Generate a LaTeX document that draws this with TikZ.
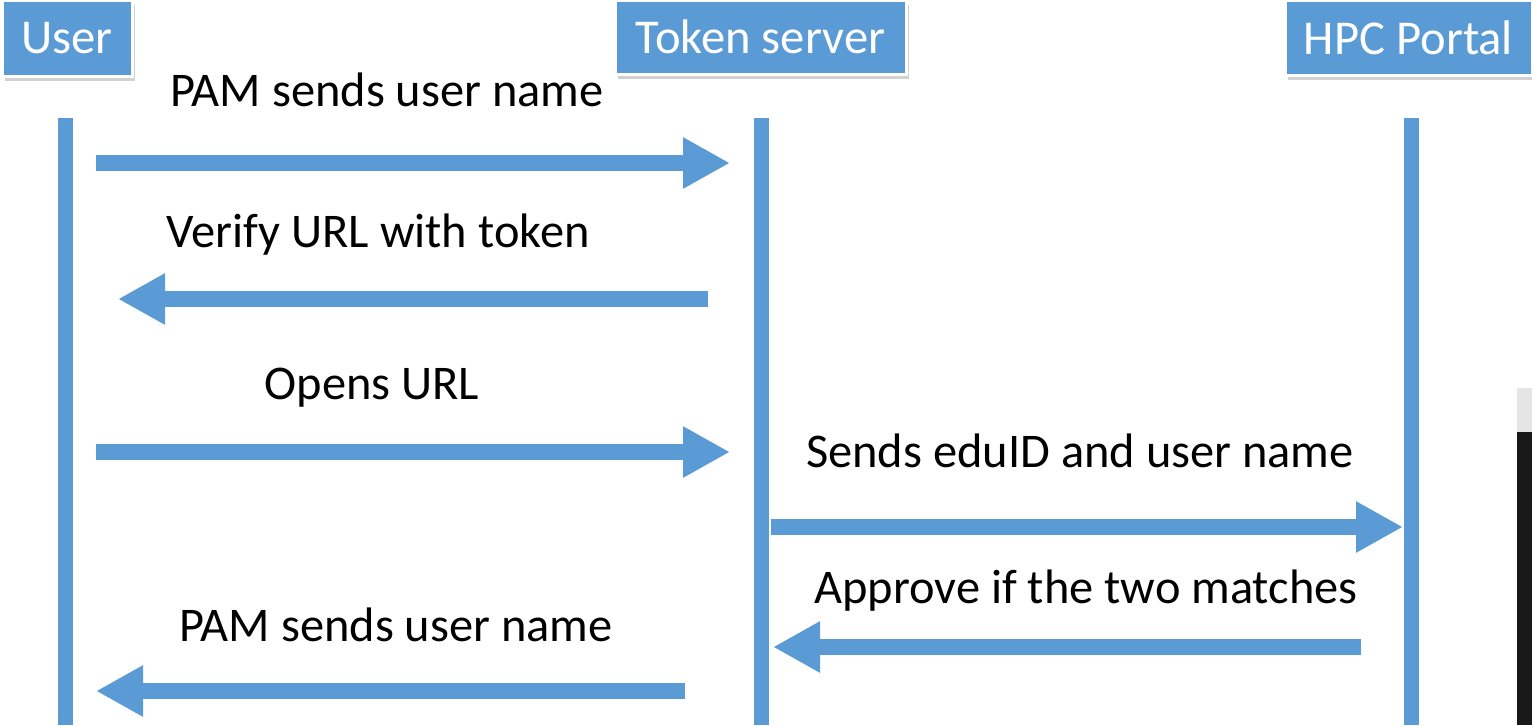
\documentclass[tikz,border=0pt]{standalone}
\usepackage{fontspec}
\setmainfont{Carlito}
\usetikzlibrary{arrows.meta,shadows,positioning}
\definecolor{lineblue}{RGB}{91,155,213}
\tikzset{%
	actor/.style    = {draw=white, line width=1.5pt, fill=lineblue, text=white, inner sep=0pt, font=\fontsize{24.3}{28}\selectfont, drop shadow={shadow xshift=1.5pt, shadow yshift=-2.5pt, fill=black!35}},
	lifeline/.style = {draw=lineblue, line width=7.5pt},
	msg/.style      = {draw=lineblue, line width=8pt, -{Triangle[length=23.5pt,width=24pt]}},
	msglabel/.style = {anchor=base, inner sep=0pt, font=\fontsize{24.2}{28}\selectfont},
}
\begin{document}
\begin{tikzpicture}[x=0.5pt,y=-0.5pt]
			\useasboundingbox (0,0) rectangle (1532,725);
			\node[actor, minimum width=65pt, minimum height=38pt] (user) at (67,38) {User};
			\node[actor, minimum width=145.5pt, minimum height=37pt] (token) at (760.5,37) {Token server};
			\node[actor, minimum width=123.5pt, minimum height=37.5pt] (portal) at (1408.5,37.5) {HPC Portal};
			\coordinate (userTop) at (65,118);  \coordinate (userBot) at (65,725);
			\coordinate (tokenTop) at (761,118); \coordinate (tokenBot) at (761,725);
			\coordinate (portalTop) at (1411,118); \coordinate (portalBot) at (1411,725);
			\draw[lifeline] (userTop) -- (userBot);
			\draw[lifeline] (tokenTop) -- (tokenBot);
			\draw[lifeline] (portalTop) -- (portalBot);
			\coordinate (a1) at (96,163);   \coordinate (b1) at (730,163);
			\coordinate (a2) at (708,299);  \coordinate (b2) at (118,299);
			\coordinate (a3) at (96,452);   \coordinate (b3) at (730,452);
			\coordinate (a4) at (771,527);  \coordinate (b4) at (1403,527);
			\coordinate (a5) at (1361,647); \coordinate (b5) at (773,647);
			\coordinate (a6) at (685,691);  \coordinate (b6) at (96,691);
			\draw[msg] (a1) -- (b1);
			\draw[msg] (a2) -- (b2);
			\draw[msg] (a3) -- (b3);
			\draw[msg] (a4) -- (b4);
			\draw[msg] (a5) -- (b5);
			\draw[msg] (a6) -- (b6);
			\node[msglabel] (l1) at (387,106) {PAM sends user name};
			\node[msglabel] (l2) at (378,247) {Verify URL with token};
			\node[msglabel] (l3) at (372,399) {Opens URL};
			\node[msglabel] (l4) at (1080,467) {Sends eduID and user name};
			\node[msglabel] (l5) at (1086,603) {Approve if the two matches};
			\node[msglabel] (l6) at (396,641) {PAM sends user name};
			\fill[black!10] (1517,388) rectangle (1532,432);
			\fill[black!90] (1517,432) rectangle (1532,725);
			\end{tikzpicture}
\end{document}
